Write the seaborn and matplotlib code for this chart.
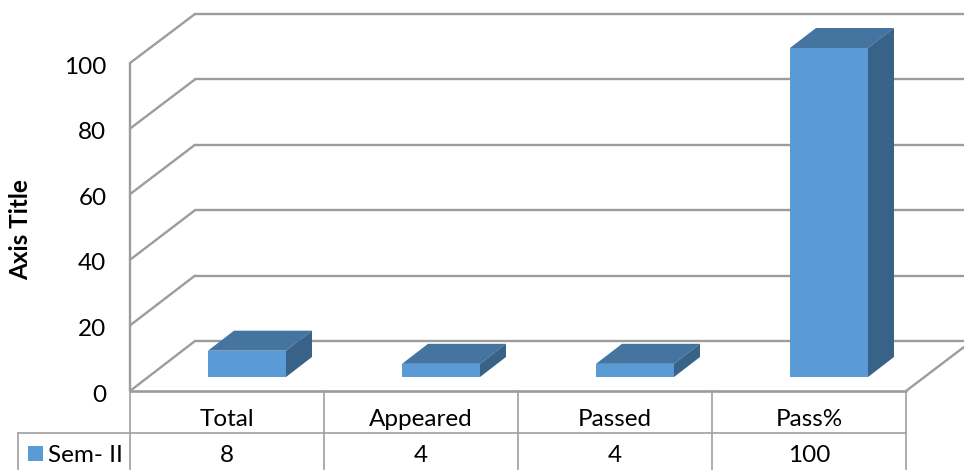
import matplotlib
matplotlib.use("Agg")
import matplotlib.pyplot as plt
import seaborn as sns
from matplotlib.patches import Polygon, Rectangle

categories = ["Total", "Appeared", "Passed", "Pass%"]
values = [8, 4, 4, 100]
series_name = "Sem- II"
y_ticks = [0, 20, 40, 60, 80, 100]

W, H = 964, 470
FRONT = "#5B9BD5"
TOP = "#44749F"
SIDE = "#386287"
GRID = "#9C9C9C"
TABLE = "#A0A0A0"
FS = 17.5

sns.set_style("white")
plt.rcParams["font.family"] = ["Lato", "DejaVu Sans"]

fig = plt.figure(figsize=(W / 100, H / 100), dpi=100)


def pixel_rect(x0, y_top, x1, y_bottom):
    return [x0 / W, (H - y_bottom) / H, (x1 - x0) / W, (y_bottom - y_top) / H]


# layer in pixel coordinates for the fake 3d walls and the data table
px = fig.add_axes([0, 0, 1, 1], zorder=1)
px.set_xlim(0, W)
px.set_ylim(H, 0)
px.axis("off")

# walls
for v in y_ticks:
    y_front = 391 - 3.28 * v
    y_back = 341 - 3.27 * v
    px.plot([130, 195], [y_front, y_back], color=GRID, lw=1.7)
    px.plot([195, W], [y_back, y_back], color=GRID, lw=1.7)
px.plot([130, 130], [63, 391], color=GRID, lw=1.7)
px.plot([906, 964], [391, 347], color=GRID, lw=1.7)
px.plot([130, 906], [391, 391], color=GRID, lw=1.9)

# table under the plot
for x in [130, 324, 518, 712, 906]:
    px.plot([x, x], [391, H], color=TABLE, lw=1.2)
px.plot([18, 906], [433, 433], color=TABLE, lw=1.2)
px.plot([18, 18], [433, H], color=TABLE, lw=1.2)
for i, cat in enumerate(categories):
    cx = 227 + 194 * i
    px.text(cx, 420, cat, ha="center", va="center", fontsize=FS, color="black")
    px.text(cx, 456, str(values[i]), ha="center", va="center", fontsize=FS, color="black")
px.add_patch(Rectangle((28, 446), 15, 15, color=FRONT, lw=0))
px.text(48, 455, series_name, ha="left", va="center", fontsize=FS, color="black")

# y axis labels, on the front plane
wall = fig.add_axes(pixel_rect(130, 65, 906, 393), zorder=2)
wall.patch.set_visible(False)
wall.set_ylim(0, 100)
wall.set_xticks([])
wall.set_yticks(y_ticks)
wall.tick_params(axis="y", length=0, labelsize=FS, labelcolor="black", pad=17)
wall.set_ylabel("Axis Title", fontsize=17.5, fontweight="bold", color="black")
wall.yaxis.set_label_coords(-0.126, 0.497)
sns.despine(ax=wall, left=True, bottom=True)

# bars
ax = fig.add_axes(pixel_rect(150, 48, 926, 377), zorder=3)
ax.patch.set_visible(False)
sns.barplot(x=categories, y=values, color=FRONT, saturation=1, width=0.402, linewidth=0, ax=ax)
ax.set_xlim(-0.5, 3.5)
ax.set_ylim(0, 100)
ax.axis("off")

# top and side of each bar
dx = 26 / 194
dy = 20 / 3.29
for bar in ax.patches:
    x0, x1 = bar.get_x(), bar.get_x() + bar.get_width()
    top = bar.get_height()
    ax.add_patch(Polygon([(x0, top), (x0 + dx, top + dy), (x1 + dx, top + dy), (x1, top)],
                         facecolor=TOP, edgecolor="none", clip_on=False))
    ax.add_patch(Polygon([(x1, 0), (x1 + dx, dy), (x1 + dx, top + dy), (x1, top)],
                         facecolor=SIDE, edgecolor="none", clip_on=False))

fig.savefig("out.png", dpi=100)
